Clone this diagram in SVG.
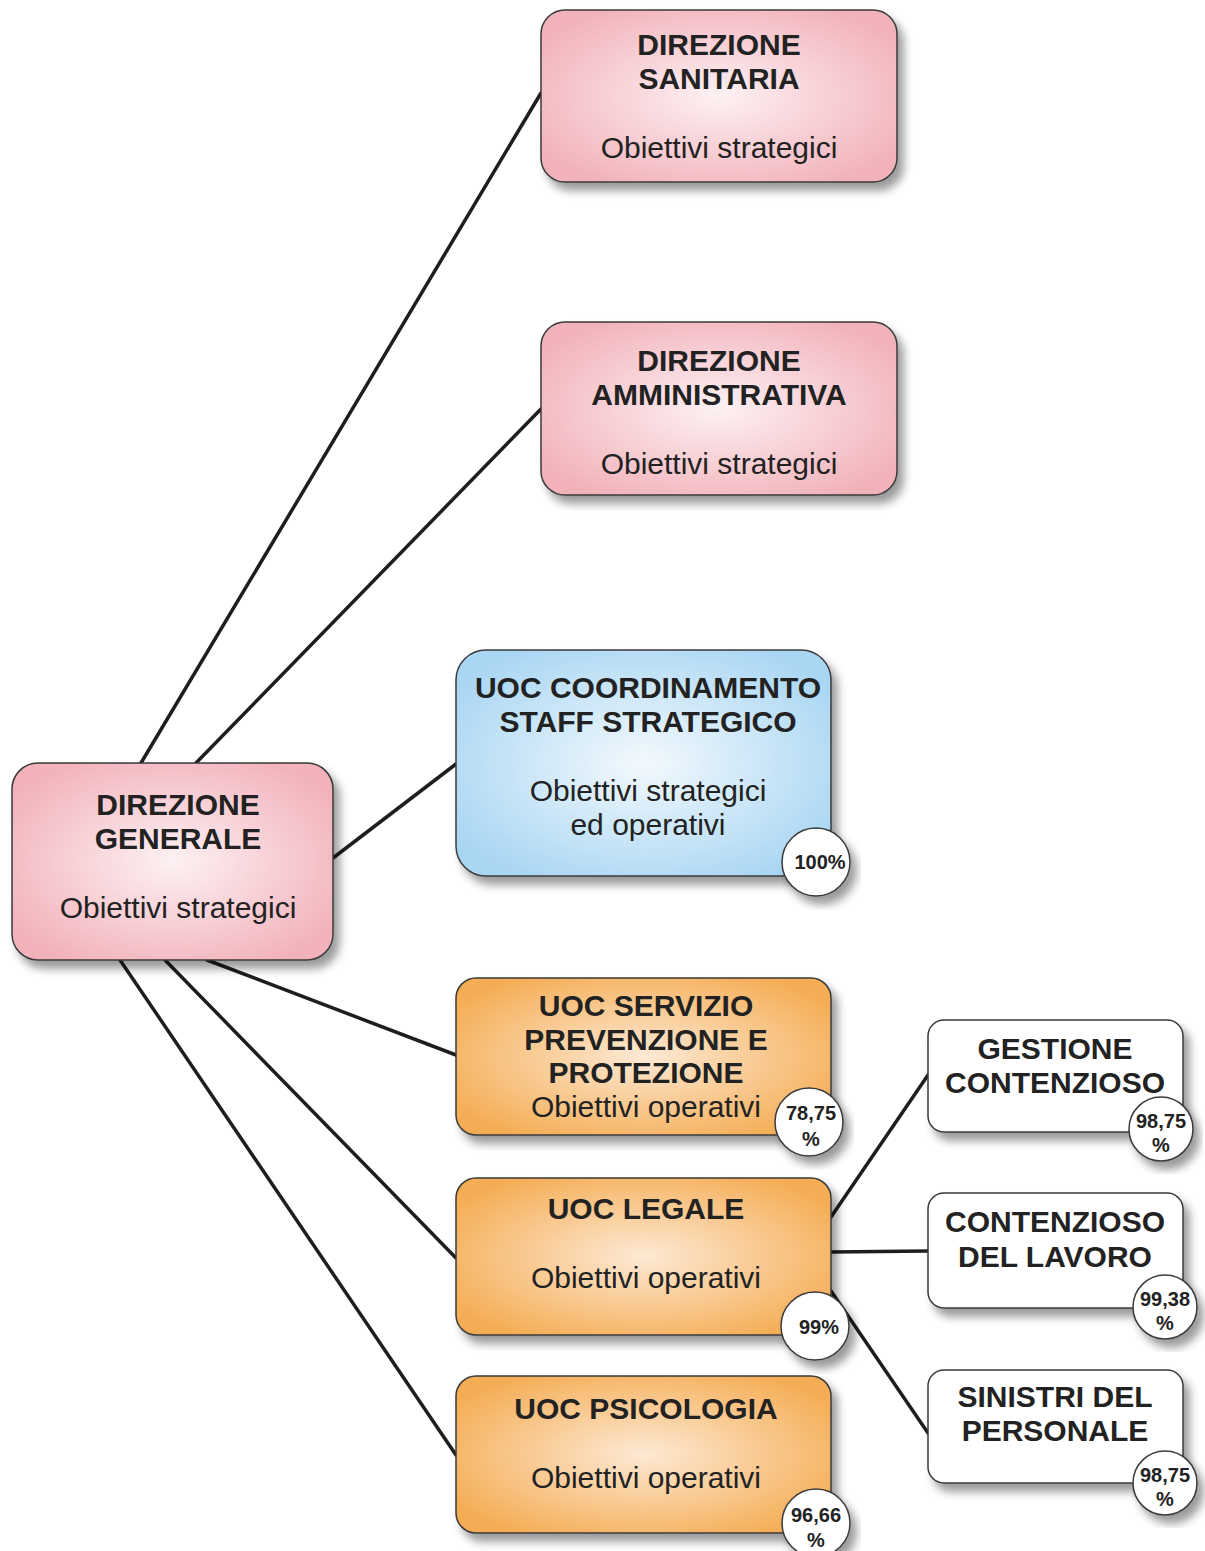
<svg xmlns="http://www.w3.org/2000/svg" width="1205" height="1551" viewBox="0 0 1205 1551">
<defs>
<radialGradient id="gPink" cx="50%" cy="50%" r="60%">
<stop offset="0" stop-color="#fdf1f3"/>
<stop offset="1" stop-color="#f2b2ba"/>
</radialGradient>
<radialGradient id="gBlue" cx="50%" cy="50%" r="60%">
<stop offset="0" stop-color="#f3f9fd"/>
<stop offset="1" stop-color="#a9d6f3"/>
</radialGradient>
<radialGradient id="gOrange" cx="50%" cy="50%" r="60%">
<stop offset="0" stop-color="#fde9d4"/>
<stop offset="1" stop-color="#f5ad55"/>
</radialGradient>
<filter id="sh" x="-10%" y="-10%" width="125%" height="130%">
<feGaussianBlur in="SourceAlpha" stdDeviation="5"/>
<feOffset dx="6" dy="8" result="b"/>
<feComponentTransfer><feFuncA type="linear" slope="0.4"/></feComponentTransfer>
<feMerge><feMergeNode/><feMergeNode in="SourceGraphic"/></feMerge>
</filter>
</defs>
<style>
.box{stroke:#3a3a3a;stroke-width:1.5}
.pink{fill:url(#gPink)}
.blue{fill:url(#gBlue)}
.orange{fill:url(#gOrange)}
.white{fill:#ffffff}
.t{font-family:"Liberation Sans",Arial,sans-serif;font-weight:bold;font-size:30px;fill:#222;text-anchor:middle}
.s{font-family:"Liberation Sans",Arial,sans-serif;font-size:30px;fill:#222;text-anchor:middle}
.c{fill:#fff;stroke:#3a3a3a;stroke-width:1.5}
.p{font-family:"Liberation Sans",Arial,sans-serif;font-weight:bold;font-size:20px;fill:#222;text-anchor:middle}
.ln{stroke:#1e1e1e;stroke-width:3.5;fill:none;stroke-linecap:round}
</style>
<rect width="1205" height="1551" fill="#ffffff"/>
<g id="connectors">
<line class="ln" x1="141" y1="763" x2="541" y2="93"/>
<line class="ln" x1="196" y1="763" x2="541" y2="409"/>
<line class="ln" x1="333" y1="858" x2="456" y2="764"/>
<line class="ln" x1="207" y1="960" x2="456" y2="1055"/>
<line class="ln" x1="165" y1="960" x2="456" y2="1258"/>
<line class="ln" x1="120" y1="960" x2="456" y2="1455"/>
<line class="ln" x1="831" y1="1217" x2="928" y2="1075"/>
<line class="ln" x1="831" y1="1252" x2="928" y2="1251"/>
<line class="ln" x1="831" y1="1291" x2="928" y2="1433"/>
</g>
<g id="n-sanitaria">
<rect class="box pink" x="541" y="10" width="356" height="172" rx="24" filter="url(#sh)"/>
<text class="t" x="719" y="55">DIREZIONE</text>
<text class="t" x="719" y="89">SANITARIA</text>
<text class="s" x="719" y="158">Obiettivi strategici</text>
</g>
<g id="n-amministrativa">
<rect class="box pink" x="541" y="322" width="356" height="173" rx="24" filter="url(#sh)"/>
<text class="t" x="719" y="371">DIREZIONE</text>
<text class="t" x="719" y="405">AMMINISTRATIVA</text>
<text class="s" x="719" y="474">Obiettivi strategici</text>
</g>
<g id="n-coordinamento">
<rect class="box blue" x="456" y="650" width="375" height="226" rx="30" filter="url(#sh)"/>
<text class="t" x="648" y="698">UOC COORDINAMENTO</text>
<text class="t" x="648" y="732">STAFF STRATEGICO</text>
<text class="s" x="648" y="801">Obiettivi strategici</text>
<text class="s" x="648" y="835">ed operativi</text>
<circle class="c" cx="816" cy="862" r="34" filter="url(#sh)"/>
<text class="p" x="820" y="869">100%</text>
</g>
<g id="n-generale">
<rect class="box pink" x="12" y="763" width="321" height="197" rx="26" filter="url(#sh)"/>
<text class="t" x="178" y="815">DIREZIONE</text>
<text class="t" x="178" y="849">GENERALE</text>
<text class="s" x="178" y="918">Obiettivi strategici</text>
</g>
<g id="n-servizio">
<rect class="box orange" x="456" y="978" width="375" height="157" rx="20" filter="url(#sh)"/>
<text class="t" x="646" y="1016">UOC SERVIZIO</text>
<text class="t" x="646" y="1050">PREVENZIONE E</text>
<text class="t" x="646" y="1083">PROTEZIONE</text>
<text class="s" x="646" y="1117">Obiettivi operativi</text>
<circle class="c" cx="809" cy="1122" r="34" filter="url(#sh)"/>
<text class="p" x="811" y="1120">78,75</text>
<text class="p" x="811" y="1146">%</text>
</g>
<g id="n-legale">
<rect class="box orange" x="456" y="1178" width="375" height="157" rx="20" filter="url(#sh)"/>
<text class="t" x="646" y="1219">UOC LEGALE</text>
<text class="s" x="646" y="1288">Obiettivi operativi</text>
<circle class="c" cx="815" cy="1326" r="34" filter="url(#sh)"/>
<text class="p" x="819" y="1334">99%</text>
</g>
<g id="n-psicologia">
<rect class="box orange" x="456" y="1376" width="375" height="157" rx="20" filter="url(#sh)"/>
<text class="t" x="646" y="1419">UOC PSICOLOGIA</text>
<text class="s" x="646" y="1488">Obiettivi operativi</text>
<circle class="c" cx="816" cy="1523" r="34" filter="url(#sh)"/>
<text class="p" x="816" y="1522">96,66</text>
<text class="p" x="816" y="1547">%</text>
</g>
<g id="n-gestione">
<rect class="box white" x="928" y="1020" width="255" height="112" rx="16" filter="url(#sh)"/>
<text class="t" x="1055" y="1059">GESTIONE</text>
<text class="t" x="1055" y="1093">CONTENZIOSO</text>
<circle class="c" cx="1161" cy="1129" r="32" filter="url(#sh)"/>
<text class="p" x="1161" y="1128">98,75</text>
<text class="p" x="1161" y="1152">%</text>
</g>
<g id="n-lavoro">
<rect class="box white" x="928" y="1193" width="255" height="115" rx="16" filter="url(#sh)"/>
<text class="t" x="1055" y="1232">CONTENZIOSO</text>
<text class="t" x="1055" y="1267">DEL LAVORO</text>
<circle class="c" cx="1165" cy="1307" r="32" filter="url(#sh)"/>
<text class="p" x="1165" y="1306">99,38</text>
<text class="p" x="1165" y="1330">%</text>
</g>
<g id="n-sinistri">
<rect class="box white" x="928" y="1370" width="255" height="113" rx="16" filter="url(#sh)"/>
<text class="t" x="1055" y="1407">SINISTRI DEL</text>
<text class="t" x="1055" y="1441">PERSONALE</text>
<circle class="c" cx="1165" cy="1483" r="32" filter="url(#sh)"/>
<text class="p" x="1165" y="1482">98,75</text>
<text class="p" x="1165" y="1506">%</text>
</g>
</svg>
